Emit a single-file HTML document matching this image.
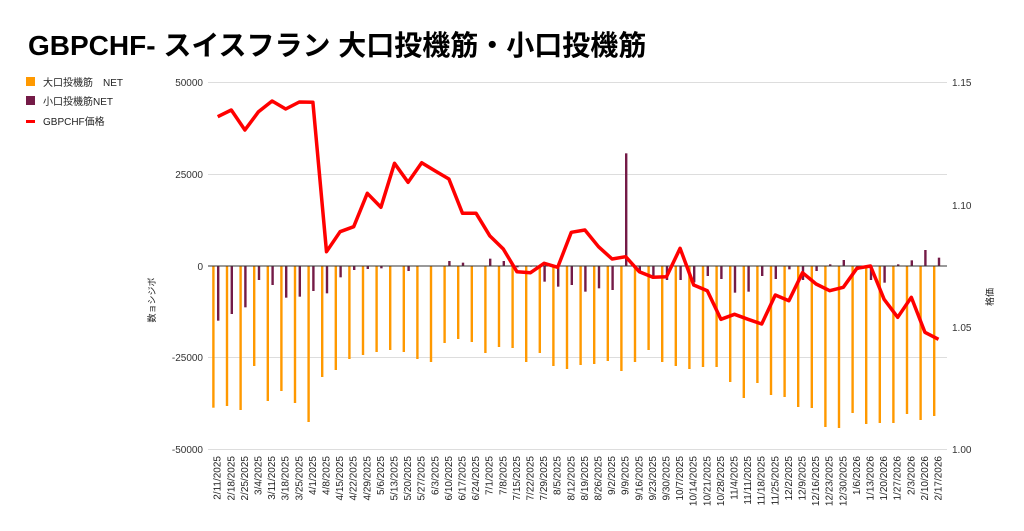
<!DOCTYPE html>
<html><head><meta charset="utf-8"><style>
html,body{margin:0;padding:0;background:#fff;width:1024px;height:531px;overflow:hidden}
svg{display:block}
text{font-family:"Liberation Sans","Noto Sans CJK JP",sans-serif}
</style></head><body>
<svg id="s" width="1024" height="531" viewBox="0 0 1024 531" xmlns="http://www.w3.org/2000/svg">
<text x="28" y="55" font-size="28" font-weight="bold" fill="#000">GBPCHF- スイスフラン 大口投機筋・小口投機筋</text>
<rect x="26" y="77" width="9" height="9" fill="#ff9900"/>
<text x="43" y="86" font-size="10" fill="#222">大口投機筋　NET</text>
<rect x="26" y="96" width="9" height="9" fill="#741b47"/>
<text x="43" y="105" font-size="10" fill="#222">小口投機筋NET</text>
<rect x="26" y="120" width="9" height="3" fill="#ff0000"/>
<text x="43" y="125" font-size="10" fill="#222">GBPCHF価格</text>
<g stroke="#dddddd" stroke-width="1">
<line x1="208" y1="82.5" x2="947" y2="82.5"/><line x1="208" y1="174.5" x2="947" y2="174.5"/>
<line x1="208" y1="357.5" x2="947" y2="357.5"/><line x1="208" y1="449.5" x2="947" y2="449.5"/>
</g>
<g font-size="10" fill="#333" text-anchor="end">
<text x="203" y="86">50000</text><text x="203" y="178">25000</text><text x="203" y="270">0</text>
<text x="203" y="361">-25000</text><text x="203" y="453">-50000</text>
</g>
<g font-size="10" fill="#333">
<text x="952" y="86">1.15</text><text x="952" y="209">1.10</text><text x="952" y="331">1.05</text><text x="952" y="453">1.00</text>
</g>
<text transform="translate(155,300) rotate(-90)" font-size="9" fill="#222" text-anchor="middle">数ョシジボ</text>
<text transform="translate(993,297) rotate(-90)" font-size="9" fill="#222" text-anchor="middle">格価</text>
<g id="bars"></g>
<line x1="208" y1="266" x2="947" y2="266" stroke="#333" stroke-width="1"/>
<polyline id="ln" fill="none" stroke="#ff0000" stroke-width="3.5" stroke-linejoin="round"/>
<g id="lab" font-size="10" fill="#222" text-anchor="end"></g>
</svg>
<script>
var O=[407.7,406,410,366,401,391,403,422,377,370,359,355,352,350,352,359,362,343,339,342,353,347,348,362,353,366,369,365,364,361,371,362,350,362,366,369,367,367,382,398,383,395,397,407,408,427,428,413,424,423,423,414,420,416];
var P=[722,702,682,600,615,653,650,633,640,592,570,567,565,558,573,558,558,543,548,558,536,543,562,560,605,620,615,635,625,630,220,575,590,600,600,607,588,597,638,635,588,597,568,600,573,553,540,570,600,608,553,541,510,533];
var L=[110,90,150,95,63,87,66,67,515,455,440,340,382,250,307,248,273,297,400,400,467,507,575,578,550,562,457,450,500,537,530,575,592,590,505,615,632,718,703,718,732,645,662,578,612,632,622,565,558,658,712,652,757,778];
var ns="http://www.w3.org/2000/svg",b=document.getElementById('bars'),lab=document.getElementById('lab'),pts=[];
var d=new Date(2025,1,11);
for(var i=0;i<54;i++){
 var x=217.7+13.6*i;
 var r=document.createElementNS(ns,'rect');r.setAttribute('x',x-5.5);r.setAttribute('width',2.4);
 r.setAttribute('y',266);r.setAttribute('height',O[i]-266);r.setAttribute('fill','#ff9900');b.appendChild(r);
 var py=80+P[i]/3;
 if(Math.abs(py-266)>0.5){var q=document.createElementNS(ns,'rect');q.setAttribute('x',x-0.7);q.setAttribute('width',2.4);
 q.setAttribute('y',Math.min(py,266));q.setAttribute('height',Math.abs(py-266));q.setAttribute('fill','#741b47');b.appendChild(q);}
 pts.push(x.toFixed(1)+','+(80+L[i]/3).toFixed(1));
 var t=document.createElementNS(ns,'text');
 t.setAttribute('transform','translate('+(x+3)+',456) rotate(-90)');
 t.textContent=(d.getMonth()+1)+'/'+d.getDate()+'/'+d.getFullYear();lab.appendChild(t);
 d.setDate(d.getDate()+7);
}
document.getElementById('ln').setAttribute('points',pts.join(' '));
</script>
</body></html>
